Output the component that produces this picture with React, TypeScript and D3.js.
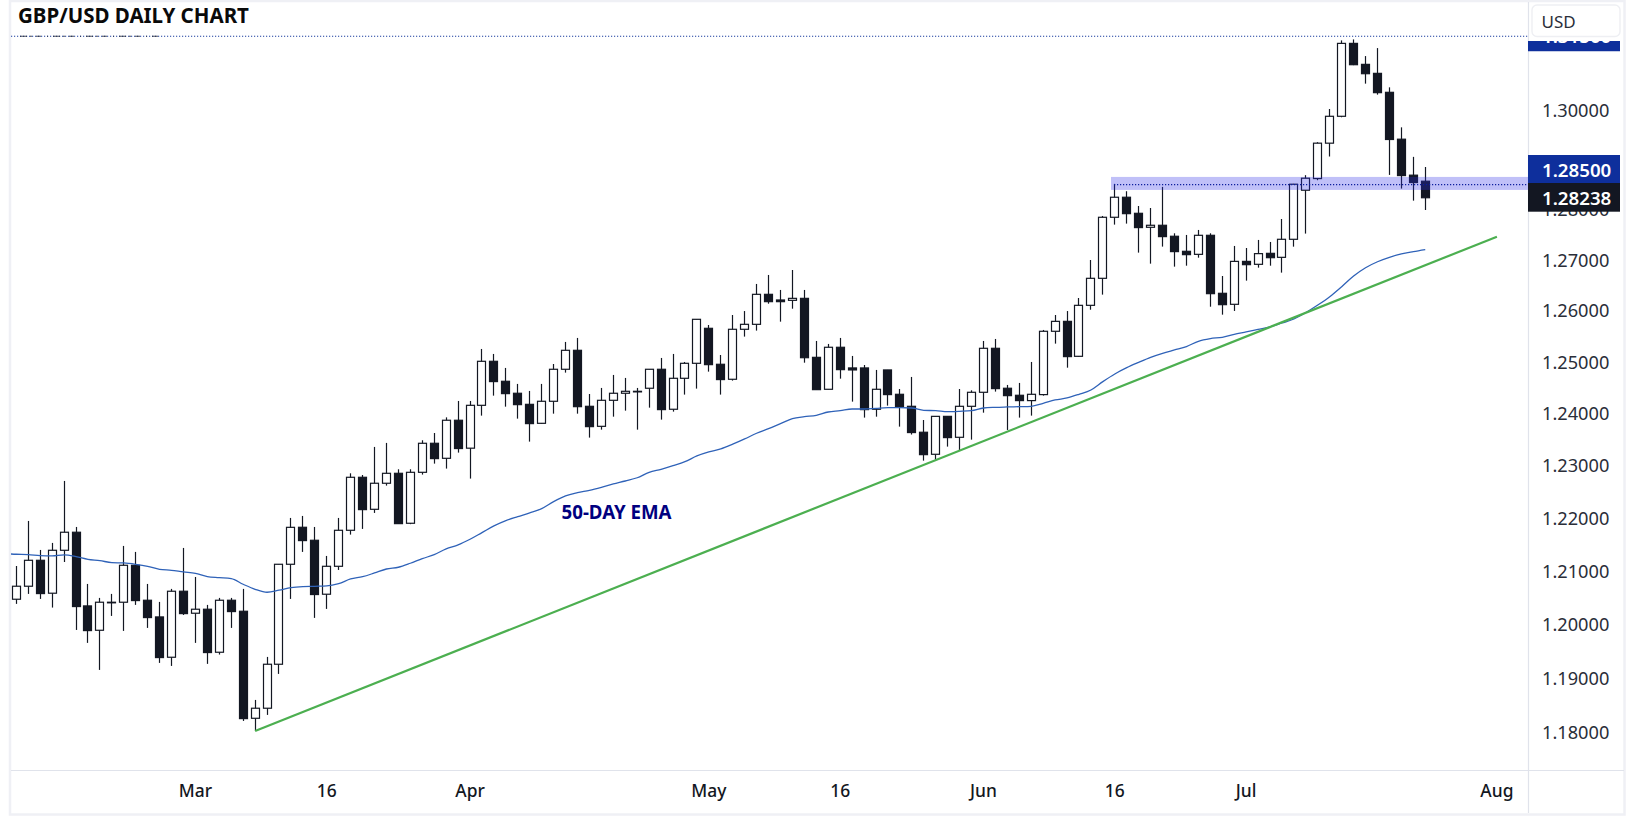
import React from 'react';
import * as d3 from 'd3';

const months: [string, number[]][] = [
  ['02', [7, 8, 9, 10, 13, 14, 15, 16, 17, 20, 21, 22, 23, 24, 27, 28]],
  ['03', [1, 2, 3, 6, 7, 8, 9, 10, 13, 14, 15, 16, 17, 20, 21, 22, 23, 24, 27, 28, 29, 30, 31]],
  ['04', [3, 4, 5, 6, 7, 10, 11, 12, 13, 14, 17, 18, 19, 20, 21, 24, 25, 26, 27, 28]],
  ['05', [1, 2, 3, 4, 5, 8, 9, 10, 11, 12, 15, 16, 17, 18, 19, 22, 23, 24, 25, 26, 29, 30, 31]],
  ['06', [1, 2, 5, 6, 7, 8, 9, 12, 13, 14, 15, 16, 19, 20, 21, 22, 23, 26, 27, 28, 29, 30]],
  ['07', [3, 4, 5, 6, 7, 10, 11, 12, 13, 14, 17, 18, 19, 20, 21, 24, 25, 26, 27, 28, 31]],
  ['08', [1]],
];
const dates = months.flatMap(([m, days]) => days.map(d => `${m}-${d}`));
const candleDates = dates.slice(1, 120);

const opens = [
  1.20475, 1.20719, 1.21207, 1.20588, 1.21396, 1.21737, 1.2035, 1.19895, 1.20413, 1.20419,
  1.21113, 1.20456, 1.20144, 1.19393, 1.20625, 1.20213, 1.20288, 1.19486, 1.20456, 1.2025,
  1.18265, 1.1845, 1.19263, 1.21132, 1.21831, 1.21585, 1.20569, 1.21094, 1.21774, 1.22782,
  1.22172, 1.22668, 1.22858, 1.21907, 1.22877, 1.23433, 1.23145, 1.23876, 1.23339, 1.24164,
  1.25017, 1.24629, 1.24397, 1.24183, 1.23817, 1.24242, 1.24862, 1.25231, 1.24145, 1.23759,
  1.24261, 1.24397, 1.24429, 1.24494, 1.24862, 1.24088, 1.24687, 1.24978, 1.2566, 1.24959,
  1.24668, 1.25641, 1.25738, 1.26326, 1.26215, 1.26208, 1.26247, 1.25094, 1.24474, 1.2529,
  1.24888, 1.24888, 1.24088, 1.24849, 1.24377, 1.24145, 1.23645, 1.23222, 1.23951, 1.23548,
  1.24145, 1.24416, 1.2527, 1.24494, 1.24358, 1.24255, 1.24371, 1.25602, 1.25796, 1.25114,
  1.2611, 1.26641, 1.27849, 1.28248, 1.27928, 1.2765, 1.2769, 1.27472, 1.27174, 1.27114,
  1.27491, 1.26346, 1.2613, 1.26975, 1.26917, 1.27134, 1.27055, 1.27412, 1.28388, 1.28621,
  1.29331, 1.29873, 1.31354, 1.30926, 1.30743, 1.30358, 1.29411, 1.28689, 1.28568,
];
const closes = [
  1.20719, 1.21207, 1.20581, 1.21396, 1.21737, 1.20338, 1.19889, 1.20419, 1.20419, 1.21113,
  1.2045, 1.20132, 1.19387, 1.20625, 1.20206, 1.20288, 1.1948, 1.20456, 1.20244, 1.18259,
  1.1845, 1.19263, 1.21132, 1.2183, 1.21579, 1.20563, 1.21094, 1.21774, 1.22782, 1.22166,
  1.22668, 1.22858, 1.219, 1.22877, 1.23433, 1.23139, 1.23876, 1.23332, 1.24164, 1.25017,
  1.24623, 1.2439, 1.24177, 1.23811, 1.24242, 1.24862, 1.25231, 1.24138, 1.23753, 1.24261,
  1.24397, 1.24435, 1.24435, 1.24862, 1.24081, 1.24687, 1.24978, 1.25836, 1.24952, 1.24662,
  1.25641, 1.25738, 1.26326, 1.26182, 1.26182, 1.26247, 1.25087, 1.24467, 1.2529, 1.24855,
  1.24849, 1.24081, 1.24474, 1.24371, 1.24138, 1.23639, 1.23215, 1.23951, 1.23542, 1.24145,
  1.24416, 1.2527, 1.24487, 1.24351, 1.24255, 1.24377, 1.25602, 1.25796, 1.25108, 1.2611,
  1.26641, 1.27849, 1.28248, 1.27921, 1.27644, 1.2769, 1.27465, 1.27168, 1.27108, 1.27491,
  1.26339, 1.26123, 1.26975, 1.2691, 1.27128, 1.27048, 1.27412, 1.28508, 1.28628, 1.29331,
  1.29873, 1.31354, 1.30919, 1.30736, 1.30351, 1.29405, 1.28681, 1.28541, 1.28238,
];
const highs = [
  1.211, 1.21951, 1.21402, 1.21535, 1.22712, 1.21837, 1.20762, 1.205, 1.20575, 1.21478,
  1.21365, 1.20762, 1.20425, 1.20669, 1.2144, 1.20893, 1.20369, 1.205, 1.205, 1.20669,
  1.18603, 1.19399, 1.21132, 1.22008, 1.22046, 1.21837, 1.21289, 1.22008, 1.22858, 1.22826,
  1.23363, 1.2344, 1.22935, 1.22935, 1.23491, 1.23631, 1.23932, 1.24248, 1.24248, 1.25257,
  1.2516, 1.24888, 1.24578, 1.24442, 1.24578, 1.24965, 1.25394, 1.25472, 1.24383, 1.245,
  1.24752, 1.24694, 1.245, 1.24862, 1.25082, 1.2516, 1.25004, 1.25836, 1.25725, 1.2514,
  1.2592, 1.25998, 1.2653, 1.26707, 1.26412, 1.26805, 1.26412, 1.25413, 1.25355, 1.25472,
  1.25121, 1.24945, 1.24849, 1.24849, 1.2448, 1.24713, 1.23881, 1.23951, 1.23951, 1.2448,
  1.24454, 1.25413, 1.25452, 1.24558, 1.24597, 1.25004, 1.25628, 1.2592, 1.25998, 1.26254,
  1.27002, 1.27875, 1.28515, 1.28368, 1.28074, 1.28034, 1.28455, 1.27531, 1.27498, 1.27597,
  1.27531, 1.26687, 1.2728, 1.2724, 1.27399, 1.27359, 1.27815, 1.28515, 1.28689, 1.29351,
  1.3002, 1.31415, 1.31435, 1.31095, 1.31258, 1.30459, 1.2965, 1.29056, 1.28853,
];
const lows = [
  1.20388, 1.20575, 1.20481, 1.20319, 1.21175, 1.19901, 1.1966, 1.19158, 1.20163, 1.19883,
  1.20369, 1.19939, 1.19288, 1.19232, 1.20181, 1.1966, 1.1927, 1.19443, 1.19939, 1.18216,
  1.18031, 1.18327, 1.19084, 1.20481, 1.21365, 1.20126, 1.20294, 1.21025, 1.21692, 1.218,
  1.22103, 1.22623, 1.219, 1.2189, 1.22833, 1.23043, 1.22948, 1.23254, 1.22757, 1.23965,
  1.24351, 1.24138, 1.23907, 1.23465, 1.23811, 1.24003, 1.24797, 1.24003, 1.23542, 1.23695,
  1.23945, 1.24061, 1.23695, 1.24119, 1.23888, 1.24042, 1.24371, 1.24487, 1.24816, 1.24371,
  1.24642, 1.25498, 1.25615, 1.26142, 1.2579, 1.26044, 1.2499, 1.24467, 1.24474, 1.2468,
  1.24235, 1.23927, 1.23945, 1.24158, 1.23753, 1.23601, 1.231, 1.2312, 1.23369, 1.23299,
  1.23503, 1.24022, 1.24429, 1.23689, 1.23927, 1.23965, 1.24351, 1.25361, 1.24893, 1.25108,
  1.26024, 1.2632, 1.27703, 1.27723, 1.27148, 1.2693, 1.27267, 1.26871, 1.2689, 1.27048,
  1.26083, 1.25927, 1.26, 1.26595, 1.26851, 1.2689, 1.26753, 1.27266, 1.27525, 1.28588,
  1.29063, 1.29853, 1.3091, 1.30534, 1.30311, 1.28694, 1.28421, 1.2818, 1.27994,
];
// starts one day before the first candle, it runs off the left edge
const ema50 = [
  1.21333, 1.21321, 1.21314, 1.21295, 1.21289, 1.21308, 1.21277, 1.21226, 1.21201, 1.21163, 1.21157,
  1.21132, 1.21094, 1.21037, 1.21018, 1.20987, 1.20962, 1.209, 1.20881, 1.20862, 1.20756,
  1.20662, 1.20606, 1.20644, 1.20694, 1.20713, 1.20718, 1.20724, 1.20767, 1.20855, 1.20898,
  1.20968, 1.21043, 1.21076, 1.21151, 1.21238, 1.21314, 1.21422, 1.21498, 1.21605, 1.2173,
  1.21856, 1.21957, 1.22032, 1.22103, 1.22184, 1.22317, 1.22426, 1.22488, 1.22534, 1.22591,
  1.22654, 1.22711, 1.22773, 1.22876, 1.22935, 1.23004, 1.23081, 1.2319, 1.23267, 1.23324,
  1.23415, 1.23516, 1.23626, 1.23714, 1.2381, 1.23906, 1.23944, 1.23971, 1.24035, 1.2406,
  1.24093, 1.24093, 1.24106, 1.24119, 1.24119, 1.24112, 1.24067, 1.24061, 1.24041, 1.24048,
  1.24061, 1.24112, 1.24125, 1.24132, 1.24138, 1.24145, 1.24203, 1.24267, 1.24306, 1.24377,
  1.24461, 1.24623, 1.24771, 1.24893, 1.24997, 1.25095, 1.25173, 1.25238, 1.25303, 1.25407,
  1.25459, 1.25485, 1.25543, 1.25589, 1.25638, 1.25686, 1.25764, 1.25842, 1.25969, 1.26116,
  1.2628, 1.26477, 1.26687, 1.2685, 1.26968, 1.27055, 1.27121, 1.27166, 1.27206,
];

const trendDates = ['03-8', '08-1'];
const trendPrices = [1.18031, 1.27463];
const zoneStart = '06-16';
const zoneTop = 1.28654;
const zoneBottom = 1.28394;
const resistance = 1.285;
const swingHigh = 1.315;
const lastClose = 1.28238;

const priceTicks = [1.18, 1.19, 1.2, 1.21, 1.22, 1.23, 1.24, 1.25, 1.26, 1.27, 1.28, 1.29, 1.3];
const priceLabels = priceTicks.filter(p => p !== 1.29);
const timeTicks = ['03-1', '03-16', '04-3', '05-1', '05-16', '06-1', '06-16', '07-3', '08-1'];
const timeLabels = ['Mar', '16', 'Apr', 'May', '16', 'Jun', '16', 'Jul', 'Aug'];

const W = 1634;
const H = 821;
const left = 11;
const right = 1528;
const top = 2;
const bottom = 770;
const ink = '#131722';
const font = '"Noto Sans", sans-serif';

const x = d3.scalePoint<string>().domain(dates).range([4.36, 1496.9]);
const y = d3.scaleLog().domain([1.3, 1.18]).range([110, 732.7]);
const px = (d: string) => Math.floor(x(d)!) + 0.5;

const App: React.FC = () => {
  const emaLine = d3.line<number>()
    .x((_, i) => x(dates[i])!)
    .y(d => y(d))
    .curve(d3.curveMonotoneX)(ema50)!;
  const trendLine = d3.line<number>()
    .x((_, i) => x(trendDates[i])!)
    .y(d => y(d))(trendPrices)!;
  const zoneX = x(zoneStart)! - 3.8;

  return (
    <svg width={W} height={H} viewBox={`0 0 ${W} ${H}`} style={{ position: 'absolute', left: 0, top: 0, background: '#fff' }}>
      <defs>
        <clipPath id="plot"><rect x={left} y={top} width={right - left} height={bottom - top} /></clipPath>
        <clipPath id="scale"><rect x={right} y={41} width={92} height={bottom - 41} /></clipPath>
      </defs>
      <rect x={10} y={1} width={1614.5} height={813.5} fill="#fff" stroke="#eff0f5" strokeWidth={2.5} />
      <line x1={left} x2={1624} y1={bottom + 0.5} y2={bottom + 0.5} stroke="#e0e3eb" strokeWidth={1.2} />
      <line x1={right + 0.5} x2={right + 0.5} y1={2} y2={813} stroke="#e0e3eb" strokeWidth={1.2} />

      <g clipPath="url(#plot)">
        {candleDates.map((d, i) => {
          const up = closes[i] >= opens[i];
          const yT = y(Math.max(opens[i], closes[i]));
          const yB = y(Math.min(opens[i], closes[i]));
          return (
            <g key={d}>
              <line x1={px(d)} x2={px(d)} y1={y(highs[i])} y2={y(lows[i])} stroke={ink} strokeWidth={1.2} />
              <rect
                x={px(d) - 4}
                y={yT}
                width={8}
                height={Math.max(yB - yT, 0.6)}
                fill={up ? '#fff' : ink}
                stroke={ink}
                strokeWidth={1.2}
              />
            </g>
          );
        })}
        <path d={emaLine} fill="none" stroke="#2f62b8" strokeWidth={1.3} />
        <path d={trendLine} fill="none" stroke="#4caf50" strokeWidth={2.2} />
        <rect x={zoneX} y={y(zoneTop)} width={right - zoneX} height={y(zoneBottom) - y(zoneTop)} fill="#3030e8" fillOpacity={0.3} />
        <line x1={zoneX + 3} x2={right} y1={y(resistance)} y2={y(resistance)} stroke="#0d1f9e" strokeWidth={1.1} strokeDasharray="1.2 1.8" />
        <line x1={left} x2={right} y1={y(swingHigh)} y2={y(swingHigh)} stroke="#1c3fa0" strokeWidth={1.1} strokeDasharray="1.2 1.8" />
        <line x1={20} x2={158} y1={y(swingHigh)} y2={y(swingHigh)} stroke={ink} strokeWidth={1} strokeDasharray="7 3 2 4 5 6 1 5" strokeOpacity={0.75} />
      </g>

      <text x={561.5} y={518.5} fontFamily={font} fontWeight={700} fontSize={18.7} fill="#00007f">50-DAY EMA</text>
      <text x={18} y={23} fontFamily={font} fontWeight={700} fontSize={20.5} fill="#0a0a0a">GBP/USD DAILY CHART</text>

      {timeTicks.map((d, i) => (
        <text key={d} x={x(d)} y={796.5} textAnchor="middle" fontFamily={font} fontWeight={500} fontSize={17.4} fill={ink}>{timeLabels[i]}</text>
      ))}

      {priceLabels.map(p => (
        <text key={p} x={1542} y={y(p)} dy="0.36em" fontFamily={font} fontSize={18.2} fill="#2a2e39">{p.toFixed(5)}</text>
      ))}

      <g clipPath="url(#scale)">
        <rect x={right} y={y(swingHigh) - 13.5} width={92} height={28.5} fill="#0e2f9c" />
        <text x={1542} y={y(swingHigh)} dy="0.36em" fontFamily={font} fontWeight={600} fontSize={18.7} fill="#fff">{swingHigh.toFixed(5)}</text>
      </g>
      <rect x={right} y={155} width={92} height={28.5} fill="#0e2f9c" />
      <text x={1542} y={170.5} dy="0.36em" fontFamily={font} fontWeight={600} fontSize={18.7} fill="#fff">{resistance.toFixed(5)}</text>
      <rect x={right} y={183} width={92} height={28.7} fill={ink} />
      <text x={1542} y={198} dy="0.36em" fontFamily={font} fontWeight={600} fontSize={18.7} fill="#fff">{lastClose.toFixed(5)}</text>

      <rect x={1532} y={5} width={88} height={31.5} rx={5} fill="#fff" stroke="#eeeff3" strokeWidth={1.4} />
      <text x={1541.5} y={22} dy="0.36em" fontFamily={font} fontSize={17} fill="#2a2e39">USD</text>
    </svg>
  );
};

export default App;
